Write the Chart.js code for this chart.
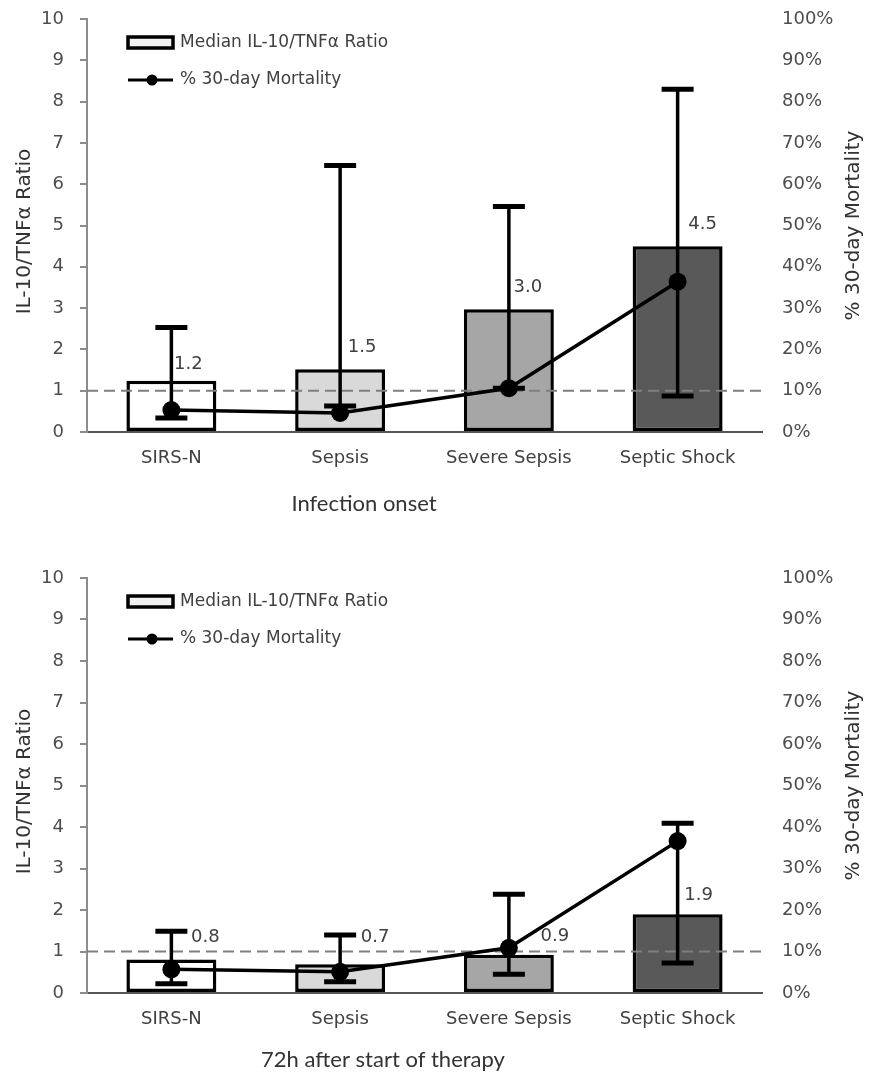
<!DOCTYPE html>
<html><head><meta charset="utf-8">
<script src="https://cdn.jsdelivr.net/npm/chart.js@4.4.1/dist/chart.umd.min.js"></script>
<style>
html,body{margin:0;padding:0;background:#fff;}
#wrap{position:relative;width:874px;height:1084px;overflow:hidden;}
.box{position:absolute;left:0;width:874px;}
</style></head><body>
<div id="wrap">
<div class="box" style="top:0;height:540px"><canvas id="c1"></canvas></div>
<div class="box" style="top:560px;height:524px"><canvas id="c2"></canvas></div>
</div>
<script>
// ---- data ----
const categories = ['SIRS-N', 'Sepsis', 'Severe Sepsis', 'Septic Shock'];
const ratioTicks = [0, 1, 2, 3, 4, 5, 6, 7, 8, 9, 10];
const mortalityTicks = [0, 10, 20, 30, 40, 50, 60, 70, 80, 90, 100];

const onsetRatio = [1.24, 1.52, 2.97, 4.5];
const onsetRatioLabels = ['1.2', '1.5', '3.0', '4.5'];
const onsetLow = [0.34, 0.63, 1.06, 0.87];
const onsetHigh = [2.53, 6.45, 5.46, 8.3];
const onsetMortality = [5.3, 4.6, 10.6, 36.4];

const t72Ratio = [0.81, 0.69, 0.92, 1.9];
const t72RatioLabels = ['0.8', '0.7', '0.9', '1.9'];
const t72Low = [0.22, 0.27, 0.45, 0.72];
const t72High = [1.49, 1.40, 2.38, 4.09];
const t72Mortality = [5.7, 5.1, 10.9, 36.6];

const referenceRatio = 1;
const barColors = ['#ffffff', '#d9d9d9', '#a6a6a6', '#595959'];

Chart.defaults.font.family = '"DejaVu Sans", "Liberation Sans", sans-serif';
Chart.defaults.color = '#4d4d4d';

const FONT = '"DejaVu Sans", "Liberation Sans", sans-serif';

const decorPlugin = {
  id: 'decor',
  afterDatasetDraw(chart, args, opts) {
    if (args.meta.type !== 'bar') return;
    const ctx = chart.ctx, ca = chart.chartArea, y = chart.scales.y;
    ctx.save();
    // reference dashed line
    const yr = y.getPixelForValue(opts.refValue);
    ctx.setLineDash([11, 6]);
    ctx.strokeStyle = '#7f7f7f';
    ctx.lineWidth = 2;
    ctx.beginPath(); ctx.moveTo(ca.left, yr); ctx.lineTo(ca.right, yr); ctx.stroke();
    ctx.setLineDash([]);
    // value labels
    ctx.font = '18px ' + FONT;
    ctx.fillStyle = '#404040';
    ctx.textAlign = 'center';
    ctx.textBaseline = 'middle';
    args.meta.data.forEach((bar, i) => {
      ctx.fillText(opts.labels[i], bar.x + opts.dx[i], bar.y + opts.dy[i]);
    });
    // error bars
    ctx.strokeStyle = '#000';
    args.meta.data.forEach((bar, i) => {
      const yl = y.getPixelForValue(opts.low[i]);
      const yh = y.getPixelForValue(opts.high[i]);
      ctx.lineWidth = 3.5;
      ctx.beginPath(); ctx.moveTo(bar.x, yl); ctx.lineTo(bar.x, yh); ctx.stroke();
      ctx.lineWidth = 5;
      ctx.beginPath();
      ctx.moveTo(bar.x - 16, yh); ctx.lineTo(bar.x + 16, yh);
      ctx.moveTo(bar.x - 16, yl); ctx.lineTo(bar.x + 16, yl);
      ctx.stroke();
    });
    ctx.restore();
  },
  afterDraw(chart, args, opts) {
    const ctx = chart.ctx, ca = chart.chartArea;
    const L = ca.left, T = ca.top;
    ctx.save();
    // legend
    ctx.fillStyle = '#f2f2f2';
    ctx.fillRect(L + 41, T + 18, 45, 11);
    ctx.strokeStyle = '#000'; ctx.lineWidth = 3.5;
    ctx.strokeRect(L + 41, T + 18, 45, 11);
    ctx.lineWidth = 3;
    ctx.beginPath(); ctx.moveTo(L + 41, T + 61); ctx.lineTo(L + 86, T + 61); ctx.stroke();
    ctx.fillStyle = '#000';
    ctx.beginPath(); ctx.arc(L + 65, T + 61, 5.5, 0, Math.PI * 2); ctx.fill();
    ctx.font = '17px ' + FONT;
    ctx.fillStyle = '#404040';
    ctx.textAlign = 'left'; ctx.textBaseline = 'middle';
    ctx.fillText('Median IL-10/TNF\u03b1 Ratio', L + 93, T + 24);
    ctx.fillText('% 30-day Mortality', L + 93, T + 61);
    // axis titles
    ctx.font = '20px ' + FONT;
    ctx.fillStyle = '#333333';
    ctx.textAlign = 'center';
    ctx.save();
    ctx.translate(25, (ca.top + ca.bottom) / 2 + 6);
    ctx.rotate(-Math.PI / 2);
    ctx.fillText('IL-10/TNF\u03b1 Ratio', 0, 0);
    ctx.restore();
    ctx.save();
    ctx.translate(854, (ca.top + ca.bottom) / 2);
    ctx.rotate(-Math.PI / 2);
    ctx.fillText('% 30-day Mortality', 0, 0);
    ctx.restore();
    // x title
    ctx.font = '22px Lato, "Open Sans", sans-serif';
    ctx.fillStyle = '#333333';
    ctx.fillText(opts.xTitle, opts.xTitleX, ca.bottom + opts.xTitleDy);
    ctx.restore();
  }
};

function noPad(s) { s.paddingTop = 0; s.paddingBottom = 0; }

function makeChart(id, ratio, labels, low, high, mortality, layout) {
  const ctx = document.getElementById(id);
  return new Chart(ctx, {
    type: 'bar',
    data: {
      labels: categories,
      datasets: [
        {
          type: 'line',
          label: '% 30-day Mortality',
          data: mortality,
          yAxisID: 'y1',
          borderColor: '#000',
          backgroundColor: '#000',
          borderWidth: 3.5,
          pointRadius: 9,
          pointBackgroundColor: '#000',
          pointBorderWidth: 0,
          tension: 0,
          order: 0
        },
        {
          type: 'bar',
          label: 'Median IL-10/TNF\u03b1 Ratio',
          data: ratio,
          yAxisID: 'y',
          backgroundColor: barColors,
          borderColor: '#000',
          borderWidth: 3.5,
          borderSkipped: false,
          categoryPercentage: 1,
          barPercentage: 0.533,
          order: 1
        }
      ]
    },
    options: {
      responsive: true,
      maintainAspectRatio: false,
      animation: false,
      events: [],
      layout: { padding: { top: layout.top, left: 0, right: 0, bottom: 0 } },
      plugins: {
        legend: { display: false },
        tooltip: { enabled: false },
        decor: {
          refValue: referenceRatio, low: low, high: high, labels: labels,
          dx: layout.dx, dy: layout.dy,
          xTitle: layout.xTitle, xTitleX: layout.xTitleX, xTitleDy: layout.xTitleDy
        }
      },
      scales: {
        x: {
          offset: true,
          grid: { display: false, drawTicks: false },
          border: { display: true, color: '#555555', width: 2 },
          ticks: { font: { size: 18 }, color: '#404040', padding: 16 },
          afterFit(s) { s.height = layout.xHeight; s.paddingLeft = 0; s.paddingRight = 0; }
        },
        y: {
          position: 'left',
          min: 0, max: 10,
          afterBuildTicks(s) { s.ticks = ratioTicks.map(v => ({ value: v })); },
          grid: { display: true, drawOnChartArea: false, drawTicks: true, tickLength: 7, color: '#8c8c8c', lineWidth: 2 },
          border: { display: true, color: '#8c8c8c', width: 2 },
          ticks: { font: { size: 18 }, color: '#4d4d4d', padding: 16 },
          afterFit(s) { s.width = 87; noPad(s); }
        },
        y1: {
          position: 'right',
          min: 0, max: 100,
          afterBuildTicks(s) { s.ticks = mortalityTicks.map(v => ({ value: v })); },
          grid: { display: false, drawTicks: false, tickLength: 0 },
          border: { display: false },
          ticks: { font: { size: 18 }, color: '#4d4d4d', padding: 20, callback: v => v + '%' },
          afterFit(s) { s.width = 112; noPad(s); }
        }
      }
    },
    plugins: [decorPlugin]
  });
}

makeChart('c1', onsetRatio, onsetRatioLabels, onsetLow, onsetHigh, onsetMortality, {
  top: 19, xHeight: 108, dx: [17, 22, 19, 25], dy: [-16, -22, -22, -22],
  xTitle: 'Infection onset', xTitleX: 364, xTitleDy: 72
});
makeChart('c2', t72Ratio, t72RatioLabels, t72Low, t72High, t72Mortality, {
  top: 18, xHeight: 91, dx: [34, 35, 46, 21], dy: [-22, -27, -18, -19],
  xTitle: '72h after start of therapy', xTitleX: 383, xTitleDy: 67
});
</script>
</body></html>
